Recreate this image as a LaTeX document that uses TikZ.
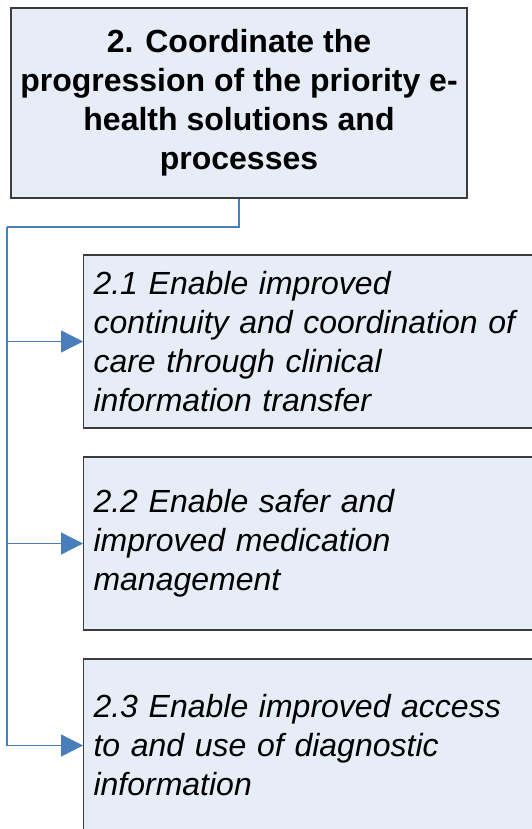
\documentclass[tikz,border=0pt]{standalone}
\usepackage{fontspec}
\setmainfont{Liberation Sans}
\usetikzlibrary{arrows.meta}
\definecolor{boxfill}{HTML}{E6EDF7}
\definecolor{boxdraw}{HTML}{3C3C3C}
\definecolor{connblue}{HTML}{4A7EBB}
\begin{document}
\begin{tikzpicture}[x=1pt,y=1pt,
  topbox/.style={draw=boxdraw, fill=boxfill, line width=1.1pt, rectangle,
    minimum width=456pt, minimum height=190pt, inner sep=0pt, align=center,
    font=\fontsize{32pt}{39pt}\selectfont\bfseries},
  subbox/.style={draw=boxdraw, fill=boxfill, line width=1.1pt, rectangle,
    minimum width=456pt, minimum height=173pt, inner xsep=10pt, inner ysep=0pt,
    text width=436pt, align=left, anchor=west,
    font=\fontsize{32pt}{39pt}\selectfont\itshape},
  conn/.style={draw=connblue, line width=1.3pt},
  arr/.style={conn, -{Triangle[length=22pt,width=22pt,fill=connblue]}}]
\useasboundingbox (0,0) rectangle (532,-829);
\clip (0,0) rectangle (532,-829);
\node[topbox] (top) at (239,-103) {2. Coordinate the\\progression of the priority e-\\health solutions and\\processes};
\node[subbox] (c1) at (83,-341.5) {2.1 Enable improved\\continuity and coordination of\\care through clinical\\information transfer};
\node[subbox] (c2) at (83,-543.5) {2.2 Enable safer and\\improved medication\\management};
\node[subbox] (c3) at (83,-745.5) {2.3 Enable improved access\\to and use of diagnostic\\information};
\coordinate (jn) at (7,-227);
\draw[conn] (top.south) |- (jn);
\draw[arr] (jn) |- (c1.west);
\draw[arr] (jn) |- (c2.west);
\draw[arr] (jn) |- (c3.west);
\end{tikzpicture}
\end{document}
